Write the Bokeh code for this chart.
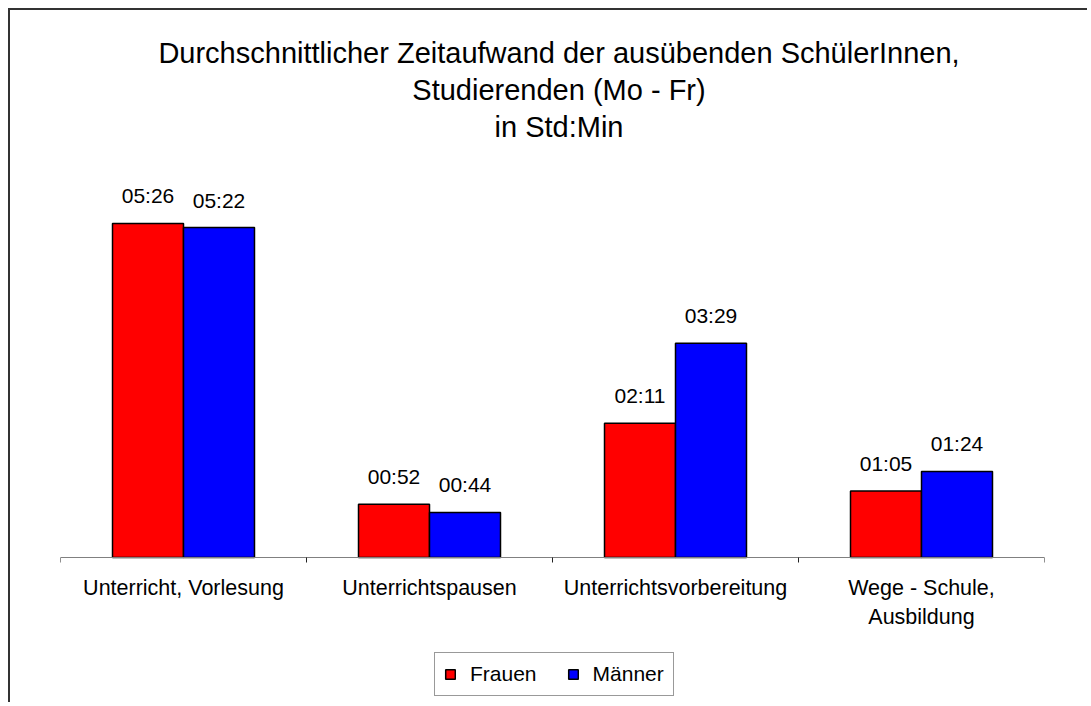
from bokeh.plotting import figure
from bokeh.models import (ColumnDataSource, LabelSet, Label, Legend, LegendItem,
                          FixedTicker, Range1d, LinearAxis, Spacer)
from bokeh.core.properties import value
from bokeh.layouts import column, row
from bokeh.transform import dodge
from bokeh.embed import file_html
from bokeh.resources import INLINE

# ---- data ----
categories = ["Unterricht, Vorlesung", "Unterrichtspausen",
              "Unterrichtsvorbereitung", "Wege - Schule, Ausbildung"]
tick_labels = ["Unterricht, Vorlesung", "Unterrichtspausen",
               "Unterrichtsvorbereitung", "Wege - Schule,\nAusbildung"]
frauen = ["05:26", "00:52", "02:11", "01:05"]
maenner = ["05:22", "00:44", "03:29", "01:24"]
series = ["Frauen", "Männer"]
title_lines = ["Durchschnittlicher Zeitaufwand der ausübenden SchülerInnen,",
               "Studierenden (Mo - Fr)",
               "in Std:Min"]


def to_min(s):
    h, m = s.split(":")
    return int(h) * 60 + int(m)


FONT = "Liberation Sans"
pos = [i + 0.5 for i in range(len(categories))]
src = ColumnDataSource(dict(
    x=pos,
    f=[to_min(v) for v in frauen],
    m=[to_min(v) for v in maenner],
    fl=frauen,
    ml=maenner,
))

W, H = 1079, 694
# frame spans the full canvas height; the category axis sits at y = 0
p = figure(width=W, height=H, output_backend="svg", toolbar_location=None,
           x_range=Range1d(0, len(categories)), y_range=Range1d(-143.5, 533.9),
           x_axis_location=None, y_axis_location=None,
           min_border_left=50, min_border_right=45,
           min_border_top=0, min_border_bottom=0)
p.styles = {"border-left": "2px solid #333333", "border-top": "2px solid #333333"}
p.outline_line_color = None
p.xgrid.visible = False
p.ygrid.visible = False
p.background_fill_color = "white"
p.border_fill_color = "white"

BW = 0.2886
OFF = 0.1443
r1 = p.vbar(x=dodge("x", -OFF), top="f", width=BW, source=src,
            fill_color="#FF0000", line_color="black", line_width=1.5)
r2 = p.vbar(x=dodge("x", OFF), top="m", width=BW, source=src,
            fill_color="#0000FF", line_color="black", line_width=1.5)

for col, lab, off in (("f", "fl", -OFF), ("m", "ml", OFF)):
    p.add_layout(LabelSet(x=dodge("x", off), y=col, text=lab, source=src,
                          y_offset=20, text_align="center",
                          text_baseline="alphabetic",
                          text_font=value(FONT), text_font_size=value("21px"),
                          text_color="black"))

# x axis with ticks at the category boundaries
ax = LinearAxis(ticker=FixedTicker(ticks=pos,
                                   minor_ticks=list(range(len(categories) + 1))),
                fixed_location=0)
ax.major_label_overrides = {v: t for v, t in zip(pos, tick_labels)}
ax.major_tick_out = 0
ax.major_tick_in = 0
ax.minor_tick_out = 5
ax.minor_tick_in = 0
ax.minor_tick_line_color = "#222222"
ax.axis_line_color = "#808080"
ax.axis_line_width = 1
ax.major_label_standoff = 14
ax.major_label_text_font = FONT
ax.major_label_text_font_size = "21.5px"
ax.major_label_text_color = "black"
p.add_layout(ax, "below")

# title lines (screen offsets from the frame's bottom-left corner)
for i, t in enumerate(title_lines):
    p.add_layout(Label(x=498.5, y=652 - 37 * i, x_units="screen", y_units="screen",
                       text=t, text_align="center", text_baseline="alphabetic",
                       text_font=FONT, text_font_size="29px",
                       text_color="black"))

legend = Legend(items=[LegendItem(label=series[0], renderers=[r1]),
                       LegendItem(label=series[1], renderers=[r2])],
                orientation="horizontal", location=(374, 8),
                label_text_font=FONT, label_text_font_size="21px",
                label_text_color="black",
                glyph_width=12, glyph_height=12, label_standoff=14,
                spacing=30, padding=9, margin=0,
                border_line_color="#333333", border_line_width=1,
                background_fill_color="white", background_fill_alpha=1)
p.add_layout(legend)

layout = column(Spacer(height=8), row(Spacer(width=8), p))
open("out.html", "w").write(file_html(layout, INLINE))
